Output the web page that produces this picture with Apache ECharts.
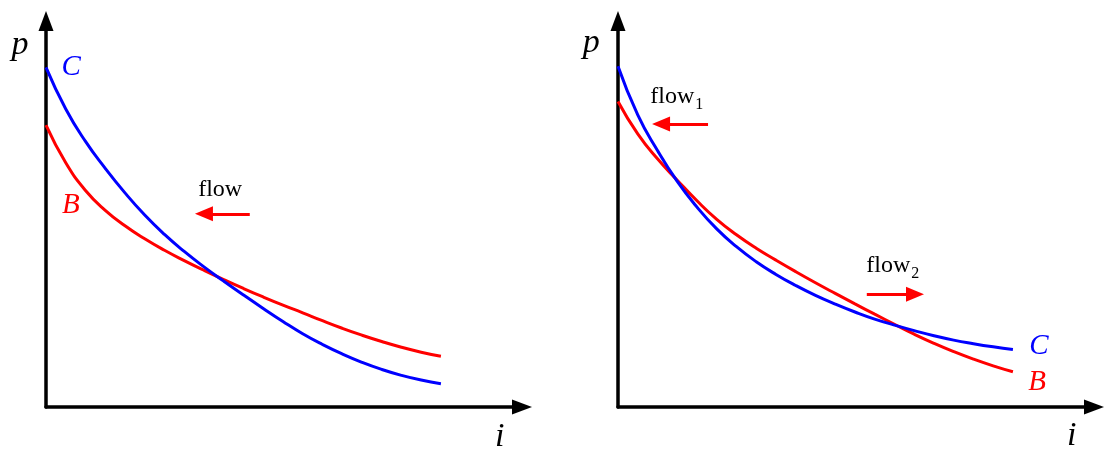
<!DOCTYPE html>
<html><head><meta charset="utf-8">
<script src="https://cdn.jsdelivr.net/npm/echarts@6/dist/echarts.min.js"></script>
<style>html,body{margin:0;padding:0;background:#fff}#c{width:1115px;height:464px}</style>
</head><body><div id="c"></div>
<script>
// ---- data (abstract units i, p) ----
const xs     = [0, 0.5, 1, 1.5, 2, 2.5, 3, 3.5, 4, 4.5, 5, 5.5, 6, 6.5, 7, 7.5, 8, 8.5, 9, 9.5, 10];
const leftC  = [8.58, 7.53, 6.71, 6.03, 5.41, 4.85, 4.36, 3.93, 3.54, 3.18, 2.83, 2.49, 2.16, 1.85, 1.58, 1.34, 1.13, 0.95, 0.80, 0.68, 0.59];
const leftB  = [7.12, 6.17, 5.47, 4.97, 4.58, 4.25, 3.96, 3.70, 3.455, 3.22, 2.995, 2.78, 2.575, 2.38, 2.18, 1.99, 1.815, 1.655, 1.51, 1.385, 1.28];
const rightC = [8.61, 7.38, 6.48, 5.70, 5.05, 4.50, 4.05, 3.67, 3.35, 3.07, 2.82, 2.60, 2.40, 2.22, 2.07, 1.93, 1.80, 1.69, 1.60, 1.52, 1.45];
const rightB = [7.72, 6.90, 6.27, 5.73, 5.21, 4.74, 4.35, 4.01, 3.71, 3.42, 3.14, 2.87, 2.605, 2.345, 2.09, 1.84, 1.61, 1.40, 1.21, 1.04, 0.89];

// flow arrows: [fromX, fromY, toX, toY] in data units
const leftFlow   = [5.16, 4.88, 4.00, 4.88];
const rightFlow1 = [2.28, 7.15, 1.09, 7.15];
const rightFlow2 = [6.30, 2.85, 7.52, 2.85];

// text annotations anchored at data coordinates
const leftTexts  = [['p', -0.66, 9.15], ['C', 0.64, 8.57], ['B', 0.63, 5.10], ['flow', 4.41, 5.48], ['i', 11.49, -0.76]];
const rightTexts = [['p', -0.68, 9.20], ['C', 10.66, 1.54], ['B', 10.61, 0.61], ['flow1', 1.49, 7.81], ['flow2', 6.96, 3.54], ['i', 11.49, -0.73]];

const X_MAX = 11.8, Y_MAX = 9.5;
const BLUE = '#0000ff', RED = '#ff0000';
const SERIF = '"Liberation Serif", "DejaVu Serif", serif';

function pairs(vals) { return xs.map((x, k) => [x, vals[k]]); }

function textStyleFor(t) {
  const base = { fontFamily: SERIF, align: 'center', verticalAlign: 'middle' };
  if (t === 'p' || t === 'i') return Object.assign(base, { fill: '#000', fontSize: 34, fontStyle: 'italic', text: t });
  if (t === 'C') return Object.assign(base, { fill: BLUE, fontSize: 29, fontStyle: 'italic', text: t });
  if (t === 'B') return Object.assign(base, { fill: RED, fontSize: 29, fontStyle: 'italic', text: t });
  if (t === 'flow') return Object.assign(base, { fill: '#000', fontSize: 24, text: 'flow' });
  const sub = t.slice(4);
  return Object.assign(base, {
    text: '{a|flow}{s|' + sub + '}',
    rich: {
      a: { fontFamily: SERIF, fontSize: 24, fill: '#000', lineHeight: 26, verticalAlign: 'top' },
      s: { fontFamily: SERIF, fontSize: 16, fill: '#000', lineHeight: 16, verticalAlign: 'top', padding: [12, 0, 0, 1] }
    }
  });
}

function arrowMark(arrs) {
  return {
    silent: true, animation: false,
    symbol: ['none', 'triangle'], symbolSize: [15, 18],
    lineStyle: { color: RED, width: 3, type: 'solid' },
    label: { show: false }, emphasis: { disabled: true },
    data: arrs.map(a => [{ coord: [a[0], a[1]] }, { coord: [a[2], a[3]] }])
  };
}

function curve(vals, color, idx, mark) {
  const s = {
    type: 'line', xAxisIndex: idx, yAxisIndex: idx, data: pairs(vals),
    smooth: 0.5, showSymbol: false, silent: true,
    lineStyle: { color: color, width: 3 }, itemStyle: { color: color }
  };
  if (mark) s.markLine = mark;
  return s;
}

const axisLine = {
  show: true, onZero: false,
  symbol: ['none', 'triangle'], symbolSize: [15, 20], symbolOffset: [0, 10],
  lineStyle: { color: '#000', width: 3.5 }
};
function xAx(g) { return { type: 'value', gridIndex: g, min: 0, max: X_MAX, axisLine: axisLine, axisTick: { show: false }, axisLabel: { show: false }, splitLine: { show: false } }; }
function yAx(g) { return { type: 'value', gridIndex: g, min: 0, max: Y_MAX, axisLine: axisLine, axisTick: { show: false }, axisLabel: { show: false }, splitLine: { show: false } }; }

const chart = echarts.init(document.getElementById('c'), null, { renderer: 'canvas' });
chart.setOption({
  animation: false,
  backgroundColor: '#fff',
  textStyle: { fontFamily: SERIF },
  grid: [
    { left: 46, top: 31, width: 466, height: 376 },
    { left: 618, top: 31, width: 466, height: 376 }
  ],
  xAxis: [xAx(0), xAx(1)],
  yAxis: [yAx(0), yAx(1)],
  series: [
    curve(leftB, RED, 0, arrowMark([leftFlow])),
    curve(leftC, BLUE, 0),
    curve(rightB, RED, 1, arrowMark([rightFlow1, rightFlow2])),
    curve(rightC, BLUE, 1)
  ]
});

const graphics = [];
[[leftTexts, 0], [rightTexts, 1]].forEach(([list, g]) => {
  list.forEach(([t, x, y]) => {
    const p = chart.convertToPixel({ gridIndex: g }, [x, y]);
    graphics.push({ type: 'text', x: p[0], y: p[1], silent: true, style: textStyleFor(t) });
  });
});
chart.setOption({ graphic: graphics });
</script></body></html>
